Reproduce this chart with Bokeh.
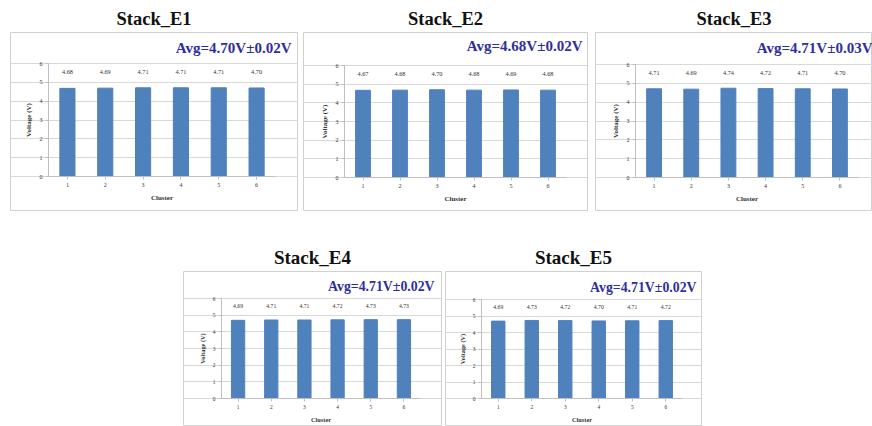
from bokeh.plotting import figure
from bokeh.layouts import column, row
from bokeh.models import (Range1d, FixedTicker, Label, Spacer, ColumnDataSource)
from bokeh.core.properties import value
from bokeh.embed import file_html
from bokeh.resources import INLINE

# ---- data -------------------------------------------------------------
clusters = [1, 2, 3, 4, 5, 6]
y_ticks = [0, 1, 2, 3, 4, 5, 6]

stack_names = ["Stack_E1", "Stack_E2", "Stack_E3", "Stack_E4", "Stack_E5"]
voltage_e1 = [4.68, 4.69, 4.71, 4.71, 4.71, 4.70]
voltage_e2 = [4.67, 4.68, 4.70, 4.68, 4.69, 4.68]
voltage_e3 = [4.71, 4.69, 4.74, 4.72, 4.71, 4.70]
voltage_e4 = [4.69, 4.71, 4.71, 4.72, 4.73, 4.73]
voltage_e5 = [4.69, 4.73, 4.72, 4.70, 4.71, 4.72]
avg_texts = ["Avg=4.70V\u00b10.02V", "Avg=4.68V\u00b10.02V", "Avg=4.71V\u00b10.03V",
             "Avg=4.71V\u00b10.02V", "Avg=4.71V\u00b10.02V"]

# ---- page geometry (pixels on the page) --------------------------------
# fig: x0, y0, w, h ; plot: l, t, r, b (value axes) ; box: panel border l, t, r, b
# avg: right x, mid y of the average note ; s: small-text scale ; ts/as: title/avg px
layout_px = [
    dict(fig=(0, 0, 300, 218), plot=(48, 63, 275, 176), box=(10, 32, 297, 210),
         avg=(291, 47), s=1.0, ts=18.5, avs=15),
    dict(fig=(300, 0, 292, 218), plot=(344, 65, 566, 177), box=(303, 32, 587, 210),
         avg=(582, 45), s=1.0, ts=18.5, avs=15),
    dict(fig=(592, 0, 280, 218), plot=(635, 64, 858, 177), box=(595, 32, 872, 210),
         avg=(872, 47), s=1.0, ts=18.5, avs=15),
    dict(fig=(180, 218, 262, 208), plot=(221, 298, 420, 398), box=(183, 271, 441, 426),
         avg=(434, 286), s=0.9, ts=19, avs=13.8),
    dict(fig=(442, 218, 264, 208), plot=(481, 299, 682, 398), box=(445, 271, 701, 426),
         avg=(696, 287), s=0.9, ts=19, avs=13.8),
]

BAR_COLOR = "#4F81BD"
AVG_COLOR = "#2E2E9E"
SERIF = "Liberation Serif"


def make_panel(name, volts, avg_text, g):
    fx0, fy0, fw, fh = g["fig"]
    pl, pt, pr, pb = g["plot"]
    bl, bt, br, bb = g["box"]
    s = g["s"]

    # the frame is the panel border; the value area sits inside it
    kx = 6.0 / (pr - pl)
    ky = 6.0 / (pb - pt)
    x_range = Range1d(0.5 - (pl - bl) * kx, 6.5 + (br - pr) * kx)
    y_range = Range1d(-(bb - pb) * ky, 6.0 + (pt - bt) * ky)

    def dx(px):
        return 0.5 + (px - pl) * kx

    def dy(py):
        return (pb - py) * ky

    p = figure(width=fw, height=fh, title=name,
               x_range=x_range, y_range=y_range,
               output_backend="svg", toolbar_location=None,
               min_border_left=bl - fx0, min_border_right=fx0 + fw - br,
               min_border_top=bt - fy0, min_border_bottom=fy0 + fh - bb)
    p.background_fill_color = "white"
    p.border_fill_color = "white"
    p.outline_line_color = "#d0d0d0"
    p.outline_line_width = 1

    p.title.align = "center"
    p.title.offset = 4
    p.title.standoff = 7
    p.title.text_font = SERIF
    p.title.text_font_style = "bold"
    p.title.text_font_size = f"{g['ts']}px"
    p.title.text_color = "#111111"

    src = ColumnDataSource(dict(cluster=clusters, voltage=volts,
                                label=[f"{v:.2f}" for v in volts]))
    p.vbar(x="cluster", top="voltage", width=0.4, source=src,
           fill_color=BAR_COLOR, line_color=BAR_COLOR)
    p.text(x="cluster", y=5.55, text="label", source=src,
           text_font=value(SERIF), text_font_size=f"{6.3 * s:.1f}px",
           text_align="center", text_baseline="middle", text_color="#333333")

    p.xgrid.visible = False
    p.ygrid.grid_line_color = "#d9d9d9"
    p.ygrid.bounds = (0.5, 6.5)

    p.yaxis.ticker = FixedTicker(ticks=y_ticks)
    p.xaxis.ticker = FixedTicker(ticks=clusters)
    p.yaxis.fixed_location = 0.5
    p.xaxis.fixed_location = 0
    p.yaxis.bounds = (0, 6)
    p.xaxis.bounds = (0.5, 6.5)
    p.yaxis.axis_label = "Voltage (V)"
    p.xaxis.axis_label = "Cluster"
    for ax in (p.xaxis, p.yaxis):
        ax.axis_line_color = "#bfbfbf"
        ax.major_tick_line_color = "#bfbfbf"
        ax.minor_tick_line_color = None
        ax.major_tick_in = 0
        ax.major_tick_out = 3
        ax.major_label_text_font = SERIF
        ax.major_label_text_font_size = f"{6 * s:.1f}px"
        ax.major_label_text_color = "#333333"
        ax.axis_label_text_font = SERIF
        ax.axis_label_text_font_size = f"{7 * s:.1f}px"
        ax.axis_label_text_font_style = "bold"
        ax.axis_label_text_color = "#333333"
        ax.major_label_standoff = 3
        ax.axis_label_standoff = 4
    p.yaxis.major_label_orientation = "horizontal"

    ax_, ay_ = g["avg"]
    p.add_layout(Label(x=dx(ax_), y=dy(ay_), text=avg_text, text_align="right",
                       text_baseline="middle", text_font=SERIF, text_font_style="bold",
                       text_font_size=f"{g['avs']}px", text_color=AVG_COLOR))
    return p


series = [voltage_e1, voltage_e2, voltage_e3, voltage_e4, voltage_e5]
panels = [make_panel(n, v, a, g) for n, v, a, g in zip(stack_names, series, avg_texts, layout_px)]

top_row = row(panels[0], panels[1], panels[2], spacing=0)
bottom_row = row(Spacer(width=180, height=208), panels[3], panels[4], spacing=0)
page = column(top_row, bottom_row, spacing=0)

open("out.html", "w").write(file_html(page, INLINE))
